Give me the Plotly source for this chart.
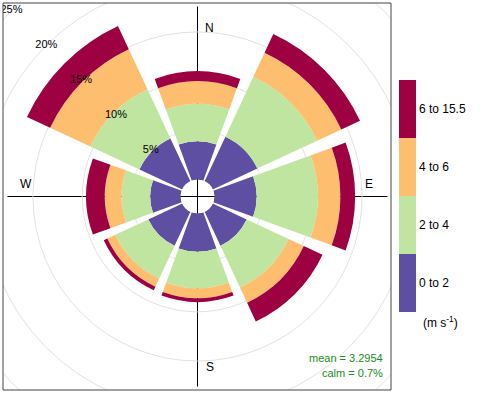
import numpy as np
import plotly.graph_objects as go

# ---------------- data ----------------
directions = ["N", "NE", "E", "SE", "S", "SW", "W", "NW"]
dir_angles = [0, 45, 90, 135, 180, 225, 270, 315]
speed_bins = ["0 to 2", "2 to 4", "4 to 6", "6 to 15.5"]
# frequency (%) contributed by each speed bin, per direction
freq_0_2 = [3.9, 5.0, 4.3, 3.8, 3.9, 3.8, 3.1, 4.8]
freq_2_4 = [3.8, 6.7, 6.2, 4.7, 3.7, 3.7, 2.9, 5.5]
freq_4_6 = [2.3, 2.7, 2.3, 1.7, 1.0, 0.9, 1.7, 4.5]
freq_6_15 = [1.0, 2.1, 1.5, 2.1, 0.4, 0.4, 1.9, 2.6]
bin_colors = ["#5E4FA2", "#BFE5A0", "#FDBF6F", "#9E0142"]
pct_ticks = [5, 10, 15, 20, 25]
pct_labels = ["5%", "10%", "15%", "20%", "25%"]
mean_text = "mean = 3.2954"
calm_text = "calm = 0.7%"

W, H = 480, 395
FONT = "Liberation Sans, Arial, sans-serif"

def px(x):
    return x / W

def py(y):
    return 1 - y / H

# panel / polar geometry (pixels)
PL, PR, PT, PB = 3, 391, 3, 390
cx, cy, R = 197.5, 196.5, 190.0
hole_px = 16.8
px_per_pct = 9.85
hole = hole_px / R
rmax = (R - hole_px) / px_per_pct

fig = go.Figure()

series = [freq_0_2, freq_2_4, freq_4_6, freq_6_15]
cs = []
for i, c in enumerate(bin_colors):
    cs.append([i / 4, c])
    cs.append([(i + 1) / 4, c])

for i, (vals, name) in enumerate(zip(series, speed_bins)):
    fig.add_trace(go.Barpolar(
        r=vals, theta=dir_angles, width=[40] * len(vals), name=name,
        marker=dict(color=[i + 0.5] * len(vals), colorscale=cs, cmin=0, cmax=4,
                    line=dict(width=0),
                    showscale=(i == 0),
                    colorbar=dict(
                        x=px(399), xanchor="left",
                        y=py(196), yanchor="middle",
                        thickness=17, thicknessmode="pixels",
                        len=232, lenmode="pixels",
                        tickmode="array", tickvals=[0.5, 1.5, 2.5, 3.5],
                        ticktext=speed_bins, ticks="", outlinewidth=0,
                        xpad=0, ypad=0,
                        tickfont=dict(family=FONT, size=12, color="black"))),
        showlegend=False, hoverinfo="skip"))

# percentage labels inside the polar range (5-15 %) along NW diagonal
inner = [p for p in pct_ticks if p <= rmax]
fig.add_trace(go.Scatterpolar(
    r=inner, theta=[315] * len(inner), mode="text",
    text=[pct_labels[pct_ticks.index(p)] for p in inner],
    textposition="middle center", cliponaxis=False,
    textfont=dict(family=FONT, size=11, color="black"),
    showlegend=False, hoverinfo="skip"))

# outer labels (beyond the polar circle) on a hidden pixel-space cartesian panel,
# clipped to the panel box
outer = [p for p in pct_ticks if p > rmax]
diag = np.cos(np.pi / 4)
ox = [cx - (hole_px + px_per_pct * p) * diag for p in outer]
oy = [cy - (hole_px + px_per_pct * p) * diag for p in outer]
fig.add_trace(go.Scatter(
    x=ox, y=oy, mode="text", text=[pct_labels[pct_ticks.index(p)] for p in outer],
    textposition="middle center", cliponaxis=True,
    textfont=dict(family=FONT, size=11, color="black"),
    showlegend=False, hoverinfo="skip", xaxis="x", yaxis="y"))

shapes = []
# outer grid circles (20 %, 25 %), clipped to panel
for p in outer:
    rp = hole_px + px_per_pct * p
    shapes.append(dict(type="circle", xref="x", yref="y", layer="below",
                       x0=cx - rp, x1=cx + rp, y0=cy - rp, y1=cy + rp,
                       line=dict(color="#E2E2E2", width=1)))
shapes += [
    dict(type="rect", xref="paper", yref="paper",
         x0=px(PL), x1=px(PR), y0=py(PB), y1=py(PT),
         line=dict(color="#444444", width=1), fillcolor="rgba(0,0,0,0)"),
    dict(type="line", xref="paper", yref="paper",
         x0=px(cx - hole_px), x1=px(cx + hole_px), y0=py(cy), y1=py(cy),
         line=dict(color="black", width=1)),
    dict(type="line", xref="paper", yref="paper",
         x0=px(cx), x1=px(cx), y0=py(cy - hole_px), y1=py(cy + hole_px),
         line=dict(color="black", width=1)),
]

fig.update_layout(
    width=W, height=H,
    margin=dict(l=0, r=0, t=0, b=0, autoexpand=False),
    paper_bgcolor="white",
    plot_bgcolor="rgba(0,0,0,0)",
    font=dict(family=FONT, size=12, color="black"),
    xaxis=dict(domain=[px(PL), px(PR)], range=[PL, PR], visible=False,
               fixedrange=True),
    yaxis=dict(domain=[py(PB), py(PT)], range=[PB, PT], visible=False,
               fixedrange=True),
    polar=dict(
        domain=dict(x=[px(cx - R), px(cx + R)], y=[py(cy + R), py(cy - R)]),
        bgcolor="rgba(0,0,0,0)",
        hole=hole,
        barmode="stack",
        radialaxis=dict(range=[0, rmax], tickmode="array", tickvals=[5, 10, 15],
                        showticklabels=False, ticks="", showline=False,
                        gridcolor="#E2E2E2", gridwidth=1),
        angularaxis=dict(rotation=90, direction="clockwise",
                         tickmode="array", tickvals=[0, 90, 180, 270],
                         showticklabels=False, ticks="", showline=False,
                         gridcolor="black", gridwidth=1),
    ),
    shapes=shapes,
    annotations=[
        dict(text="N", x=px(209.5), y=py(18.5), xref="paper", yref="paper",
             showarrow=False, font=dict(size=12)),
        dict(text="E", x=px(375), y=py(184), xref="paper", yref="paper",
             showarrow=False, font=dict(size=12)),
        dict(text="S", x=px(209.5), y=py(376), xref="paper", yref="paper",
             showarrow=False, font=dict(size=12)),
        dict(text="W", x=px(17.5), y=py(184), xref="paper", yref="paper",
             showarrow=False, font=dict(size=12)),
        dict(text=mean_text, x=px(385), y=py(366), xref="paper", yref="paper",
             xanchor="right", showarrow=False,
             font=dict(size=11, color="forestgreen")),
        dict(text=calm_text, x=px(385), y=py(381), xref="paper", yref="paper",
             xanchor="right", showarrow=False,
             font=dict(size=11, color="forestgreen")),
        dict(text="(m s<sup>-1</sup>)", x=px(421), y=py(332), xref="paper", yref="paper",
             xanchor="left", showarrow=False, font=dict(size=12)),
    ],
)

fig.write_html("out.html",
               config={"displayModeBar": False},
               post_script="document.body.style.margin='0';document.body.style.padding='0';")
